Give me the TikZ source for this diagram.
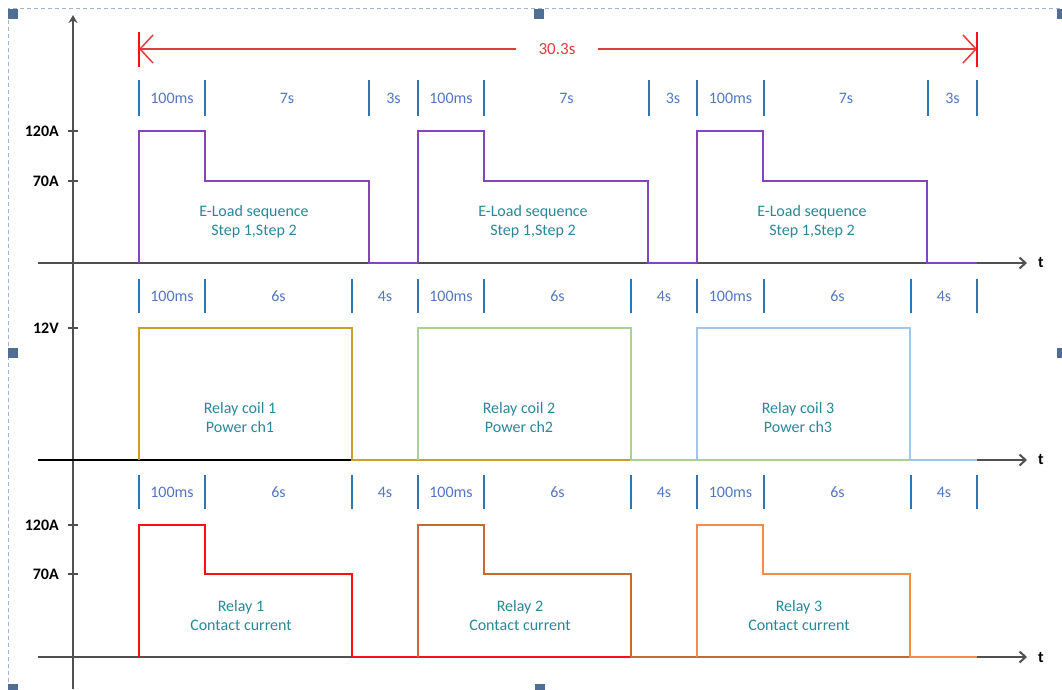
\documentclass[tikz,border=0pt]{standalone}
\usepackage{fontspec}
\setmainfont{Carlito}
\usetikzlibrary{arrows.meta}
\definecolor{axisgray}{HTML}{505050}
\definecolor{framedash}{HTML}{A3B5CC}
\definecolor{framehandle}{HTML}{4F6E96}
\definecolor{spanred}{HTML}{E03C3C}
\definecolor{markerblue}{HTML}{2E75B6}
\definecolor{markertext}{HTML}{5476C0}
\definecolor{paneltext}{HTML}{2A8698}
\definecolor{eload}{HTML}{8444BC}
\definecolor{coil-one}{HTML}{C9A02A}
\definecolor{coil-two}{HTML}{AAD18E}
\definecolor{coil-three}{HTML}{A2C6E8}
\definecolor{relay-one}{HTML}{FF1010}
\definecolor{relay-two}{HTML}{C8692E}
\definecolor{relay-three}{HTML}{F28E45}
\tikzset{
    axis-line/.style = {draw=axisgray, line width=2pt},
    level-tick/.style = {draw=axisgray, line width=1.5pt},
    level-label/.style = {anchor=east, inner sep=0pt, font=\fontsize{16}{18}\selectfont\bfseries},
    t-label/.style = {inner sep=0pt, font=\fontsize{16}{18}\selectfont\bfseries},
    marker-bar/.style = {draw=markerblue, line width=2.5pt},
    marker-label/.style = {text=markertext, inner sep=0pt, font=\fontsize{16}{18}\selectfont},
    panel-label/.style = {text=paneltext, align=center, inner sep=0pt, font=\fontsize{16}{19}\selectfont},
    pulse/.style = {line width=2.5pt},
    span-arrow/.style = {draw=spanred, line width=1.5pt, -{Straight Barb[length=13pt, width=28pt]}},
    span-bar/.style = {draw=relay-one, line width=2.5pt},
}

\begin{document}
\begin{tikzpicture}[x=1pt, y=-1pt]
\useasboundingbox (0,0) rectangle (1062,689);
% selection frame
\draw[framedash, line width=1pt, dash pattern=on 4pt off 3pt] (8,689) -- (8,8) -- (1062,8);
\foreach \hx/\hy in {13/14, 539/14, 1062/14, 13/353, 1062/353, 13/689, 540/689}
    \fill[framehandle] (\hx-5,\hy-5) rectangle (\hx+5,\hy+5);

% axes
\coordinate (y-bot) at (73,689);
\coordinate (y-top) at (73,15);
\draw[axis-line, -{Stealth[length=8pt, width=9pt]}] (y-bot) -- (y-top);
\foreach \y/\n in {263/1, 460/2, 657/3} {
    \coordinate (t\n-start) at (38,\y);
    \coordinate (t\n-end) at (1027,\y);
    \node[t-label] (t\n) at (1041,\y) {t};
    \draw[axis-line, -{Straight Barb[length=6pt, width=11pt]}] (t\n-start) -- (t\n-end);
}
\draw[draw=black, line width=2pt] (t2-start) -- (977,460);
\foreach \y/\t in {131/120A, 181/70A, 328/12V, 525/120A, 574/70A} {
    \draw[level-tick] (68,\y) -- (78,\y);
    \node[level-label] at (59,\y) {\t};
}

% total span
\coordinate (span-l) at (139,49);
\coordinate (span-r) at (977,49);
\node[text=spanred, inner xsep=22pt, font=\fontsize{17}{18}\selectfont] (span-label) at (557,49) {30.3s};
\draw[span-arrow] (span-label.west) -- (span-l);
\draw[span-arrow] (span-label.east) -- (span-r);
\draw[span-bar] ([yshift=17pt]span-l) -- ([yshift=-18pt]span-l);
\draw[span-bar] ([yshift=17pt]span-r) -- ([yshift=-18pt]span-r);

% timing markers
\foreach \x in {139,205,369,418,484,649,697,764,928,977}
    \draw[marker-bar] (\x,80) -- (\x,116);
\foreach \a/\b/\t in {139/205/100ms, 205/369/7s, 369/418/3s, 418/484/100ms, 484/649/7s, 649/697/3s, 697/764/100ms, 764/928/7s, 928/977/3s}
    \node[marker-label] at ({(\a+\b)/2},98) {\t};
\foreach \r/\y in {2/296, 3/492} {
    \foreach \x in {139,205,352,418,484,631,697,764,911,977}
        \draw[marker-bar] (\x,\y-17) -- (\x,\y+17);
    \foreach \a/\b/\t in {139/205/100ms, 205/352/6s, 352/418/4s, 418/484/100ms, 484/631/6s, 631/697/4s, 697/764/100ms, 764/911/6s, 911/977/4s}
        \node[marker-label] at ({(\a+\b)/2},\y) {\t};
}

% waveforms
\foreach \o/\e in {0/418, 279/697, 558/977}
    \draw[pulse, draw=eload] (139+\o,263) |- (205+\o,131) |- (369+\o,181) |- (\e,263);
\foreach \o/\c/\e in {0/coil-one/631, 279/coil-two/911, 558/coil-three/977}
    \draw[pulse, draw=\c] (139+\o,460) |- (352+\o,328) |- (\e,460);
\foreach \o/\c/\e in {0/relay-one/631, 279/relay-two/911, 558/relay-three/977}
    \draw[pulse, draw=\c] (139+\o,657) |- (205+\o,525) |- (352+\o,574) |- (\e,657);

% panel texts
\foreach \i/\x in {1/254, 2/533, 3/812} {
    \node[panel-label] (eload-\i) at (\x,222) {E-Load sequence\\Step 1,Step 2};
    \node[panel-label] (coil-\i) at (\x-14,417) {Relay coil \i\\Power ch\i};
    \node[panel-label] (relay-\i) at (\x-13,615) {Relay \i\\Contact current};
}
\end{tikzpicture}
\end{document}
